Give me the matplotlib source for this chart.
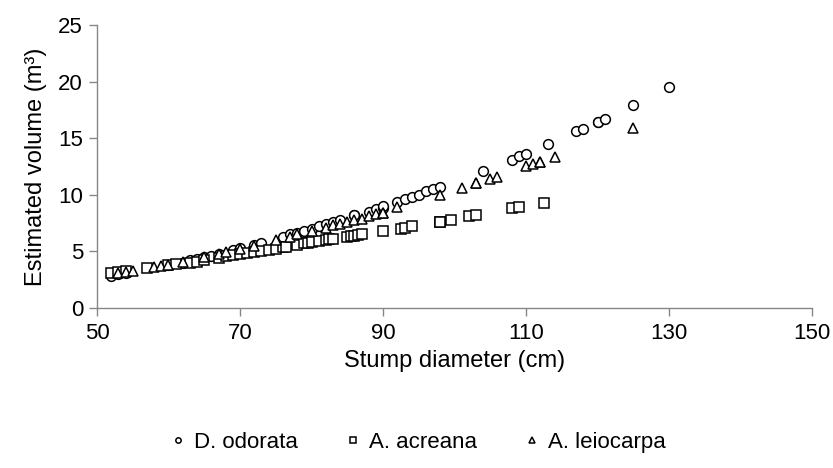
import matplotlib
matplotlib.use("Agg")
import matplotlib.pyplot as plt

plt.rcParams['font.family'] = ['Liberation Sans Narrow', 'Liberation Sans', 'DejaVu Sans']

# D. odorata (circles)
odorata_d = [52, 53, 54, 60, 62, 63, 64, 65, 66, 67, 69, 70, 72, 73, 76, 77, 78, 79,
             80, 81, 82, 83, 84, 86, 86, 88, 89, 90, 90, 92, 93, 94, 95, 96, 97, 98,
             104, 108, 109, 110, 113, 117, 118, 120, 120, 121, 125, 130]
odorata_v = [2.8, 3.0, 3.1, 3.8, 4.0, 4.2, 4.3, 4.5, 4.6, 4.8, 5.1, 5.3, 5.6, 5.7, 6.3, 6.5, 6.6, 6.8,
             7.0, 7.2, 7.4, 7.6, 7.8, 8.2, 8.2, 8.5, 8.7, 8.8, 9.0, 9.4, 9.6, 9.8, 10.0, 10.3, 10.5, 10.7,
             12.1, 13.1, 13.4, 13.6, 14.5, 15.6, 15.8, 16.4, 16.4, 16.7, 17.9, 19.5]

# A. acreana (squares)
acreana_d = [52, 53, 54, 57, 60, 61, 63, 64, 65, 67, 68, 69, 70, 71, 72, 73, 74, 75,
             76, 76.5, 78, 79, 79.5, 80, 81, 82, 82.5, 83, 85, 85.5, 86, 86.5, 87,
             90, 92.5, 93, 94, 98, 98, 99.5, 102, 103, 108, 109, 112.5]
acreana_v = [3.1, 3.2, 3.25, 3.5, 3.8, 3.9, 4.0, 4.1, 4.25, 4.4, 4.55, 4.65, 4.75, 4.85, 4.95, 5.05, 5.15, 5.25,
             5.35, 5.4, 5.6, 5.7, 5.75, 5.8, 5.9, 6.0, 6.05, 6.1, 6.3, 6.35, 6.4, 6.45, 6.5,
             6.8, 7.0, 7.1, 7.2, 7.6, 7.6, 7.8, 8.1, 8.2, 8.8, 8.9, 9.3]

# A. leiocarpa (triangles)
leiocarpa_d = [53, 54, 55, 58, 59, 60, 62, 65, 67, 68, 70, 72, 75, 77, 78, 80, 82, 83,
               84, 85, 86, 87, 88, 89, 90, 90, 92, 98, 101, 103, 103, 105, 106, 110,
               111, 112, 112, 114, 125]
leiocarpa_v = [3.1, 3.2, 3.3, 3.6, 3.7, 3.8, 4.1, 4.5, 4.8, 4.9, 5.2, 5.5, 6.0, 6.3, 6.5, 6.8, 7.1, 7.3,
               7.4, 7.6, 7.8, 7.9, 8.1, 8.3, 8.4, 8.4, 8.9, 10.0, 10.6, 11.0, 11.0, 11.4, 11.6, 12.5,
               12.7, 12.9, 12.9, 13.3, 15.9]

x_ticks = [50, 70, 90, 110, 130, 150]
y_ticks = [0, 5, 10, 15, 20, 25]

AXIS_GREY = "#868686"


def makePlot():
    fig = plt.figure(figsize=(8.33, 4.68), dpi=100)
    ax = fig.add_axes([0.1164, 0.342, 0.975 - 0.1164, 0.9466 - 0.342])

    style = dict(linestyle="none", markerfacecolor="white", markeredgecolor="black",
                 markeredgewidth=1.1, markersize=7)
    ax.plot(odorata_d, odorata_v, marker="o", label="D. odorata", **style)
    ax.plot(acreana_d, acreana_v, marker="s", label="A. acreana", **style)
    ax.plot(leiocarpa_d, leiocarpa_v, marker="^", label="A. leiocarpa", **style)

    ax.set_xlim(50, 150)
    ax.set_ylim(0, 25)
    ax.set_xticks(x_ticks)
    ax.set_yticks(y_ticks)

    for s in ["top", "right"]:
        ax.spines[s].set_visible(False)
    for s in ["left", "bottom"]:
        ax.spines[s].set_color(AXIS_GREY)
        ax.spines[s].set_linewidth(1.0)
    ax.tick_params(axis="both", direction="out", length=6, width=1.0,
                   color=AXIS_GREY, labelsize=16, labelcolor="black")
    ax.tick_params(axis="x", pad=5)
    ax.tick_params(axis="y", pad=4)

    ax.set_xlabel("Stump diameter (cm)", fontsize=17, labelpad=4)
    ax.set_ylabel("Estimated volume (m³)", fontsize=17, labelpad=8)

    fig.legend(loc="center", bbox_to_anchor=(0.5, 0.055), ncol=3, frameon=False,
               fontsize=16, markerscale=0.55, handletextpad=0.2, columnspacing=2.0,
               handlelength=1.0)

    fig.savefig("out.png", dpi=100)


makePlot()
